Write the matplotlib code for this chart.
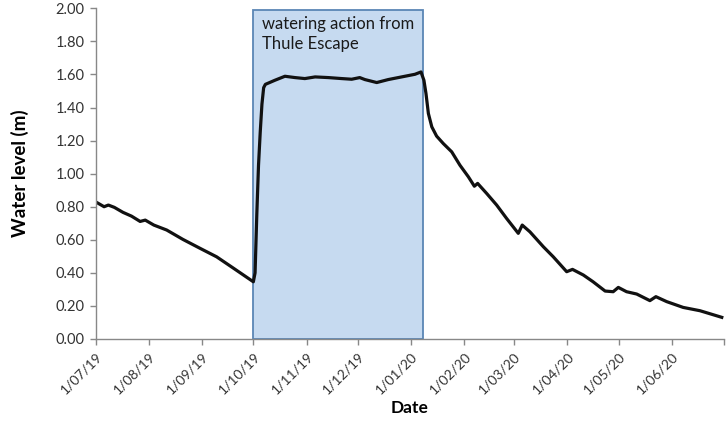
import matplotlib
matplotlib.use("Agg")
import matplotlib.pyplot as plt
import matplotlib.dates as mdates
import pandas as pd
import numpy as np

# ---- data ----
days = [0, 5, 7.5, 11, 16, 21, 26, 29, 34, 41.5, 51, 61, 70.6, 80, 92,
        93, 94, 95, 96, 97, 98, 99,
        104.6, 110.4, 116.3, 122, 128, 135.7, 143.5, 149.3, 154, 157, 163.9, 170.6, 178.4, 186.2, 189.7,
        191.4, 192.6, 194, 196, 198.8, 202.7, 207.6, 212.4, 217.3, 220.8, 222.7, 228, 233.8, 239.6,
        246.4, 248.7, 253.2, 261, 266.8, 274.6, 278, 284.3, 290, 297, 301.7, 304.7, 309.5, 315.4,
        323.1, 326.6, 332.9, 342.5, 352.3, 365]
levels = [0.83, 0.80, 0.81, 0.796, 0.766, 0.743, 0.711, 0.719, 0.689, 0.659, 0.602, 0.548, 0.497, 0.431, 0.346,
          0.40, 0.75, 1.05, 1.25, 1.42, 1.52, 1.54,
          1.565, 1.589, 1.581, 1.575, 1.585, 1.581, 1.575, 1.571, 1.581, 1.569, 1.551, 1.569, 1.585, 1.601, 1.615,
          1.565, 1.485, 1.364, 1.283, 1.227, 1.182, 1.132, 1.051, 0.981, 0.924, 0.941, 0.88, 0.81, 0.729,
          0.639, 0.689, 0.648, 0.558, 0.497, 0.407, 0.421, 0.387, 0.346, 0.29, 0.286, 0.312, 0.286, 0.272,
          0.232, 0.256, 0.226, 0.191, 0.171, 0.131]
start_date = "2019-07-01"
end_date = "2020-07-01"
watering_start = "2019-10-01"
watering_end = "2020-01-08"
watering_top = 1.99
watering_text = "watering action from\nThule Escape"
tick_dates = pd.date_range("2019-07-01", "2020-07-01", freq="MS")
tick_labels = ["1/07/19", "1/08/19", "1/09/19", "1/10/19", "1/11/19", "1/12/19",
               "1/01/20", "1/02/20", "1/03/20", "1/04/20", "1/05/20", "1/06/20", ""]
yticks = [0.0, 0.2, 0.4, 0.6, 0.8, 1.0, 1.2, 1.4, 1.6, 1.8, 2.0]

dates = pd.Timestamp(start_date) + pd.to_timedelta(days, unit="D")

plt.rcParams['font.family'] = ['Lato', 'DejaVu Sans']

fig = plt.figure(figsize=(7.26, 4.21), dpi=100)
ax = fig.add_axes([95.5/726, 1-339/421, (723.5-95.5)/726, (339-8.3)/421])

x0 = mdates.date2num(pd.Timestamp(watering_start))
x1 = mdates.date2num(pd.Timestamp(watering_end))
rect = matplotlib.patches.Rectangle((x0, 0), x1 - x0, watering_top,
                                    facecolor="#C6DAF0", edgecolor="#5A86B5", linewidth=1.3, zorder=1)
ax.add_patch(rect)
ax.text(x0 + 5, 1.955, watering_text, fontsize=12, va="top", ha="left", color="#1a1a1a",
        linespacing=1.3, zorder=3)

ax.plot(dates, levels, color="#111111", linewidth=2.3, zorder=2, solid_joinstyle="round")

ax.set_xlim(pd.Timestamp(start_date), pd.Timestamp(end_date))
ax.set_ylim(0, 2.0)
ax.set_xticks(tick_dates)
ax.set_xticklabels(tick_labels, rotation=45, ha="right", rotation_mode="anchor", fontsize=10, color="#333333")
ax.set_yticks(yticks)
ax.set_yticklabels([f"{v:.2f}" for v in yticks], fontsize=10.5, color="#333333")

for s in ["top", "right"]:
    ax.spines[s].set_visible(False)
for s in ["left", "bottom"]:
    ax.spines[s].set_color("#888888")
    ax.spines[s].set_linewidth(1.0)
ax.tick_params(axis="both", direction="out", length=4, color="#888888", width=1.0)
ax.tick_params(axis="x", pad=4)
ax.tick_params(axis="y", pad=4)

ax.set_xlabel("Date", fontsize=12.5, fontweight="bold", labelpad=3)
ax.set_ylabel("Water level (m)", fontsize=13.5, fontweight="bold", labelpad=19)

fig.savefig("out.png", dpi=100)
